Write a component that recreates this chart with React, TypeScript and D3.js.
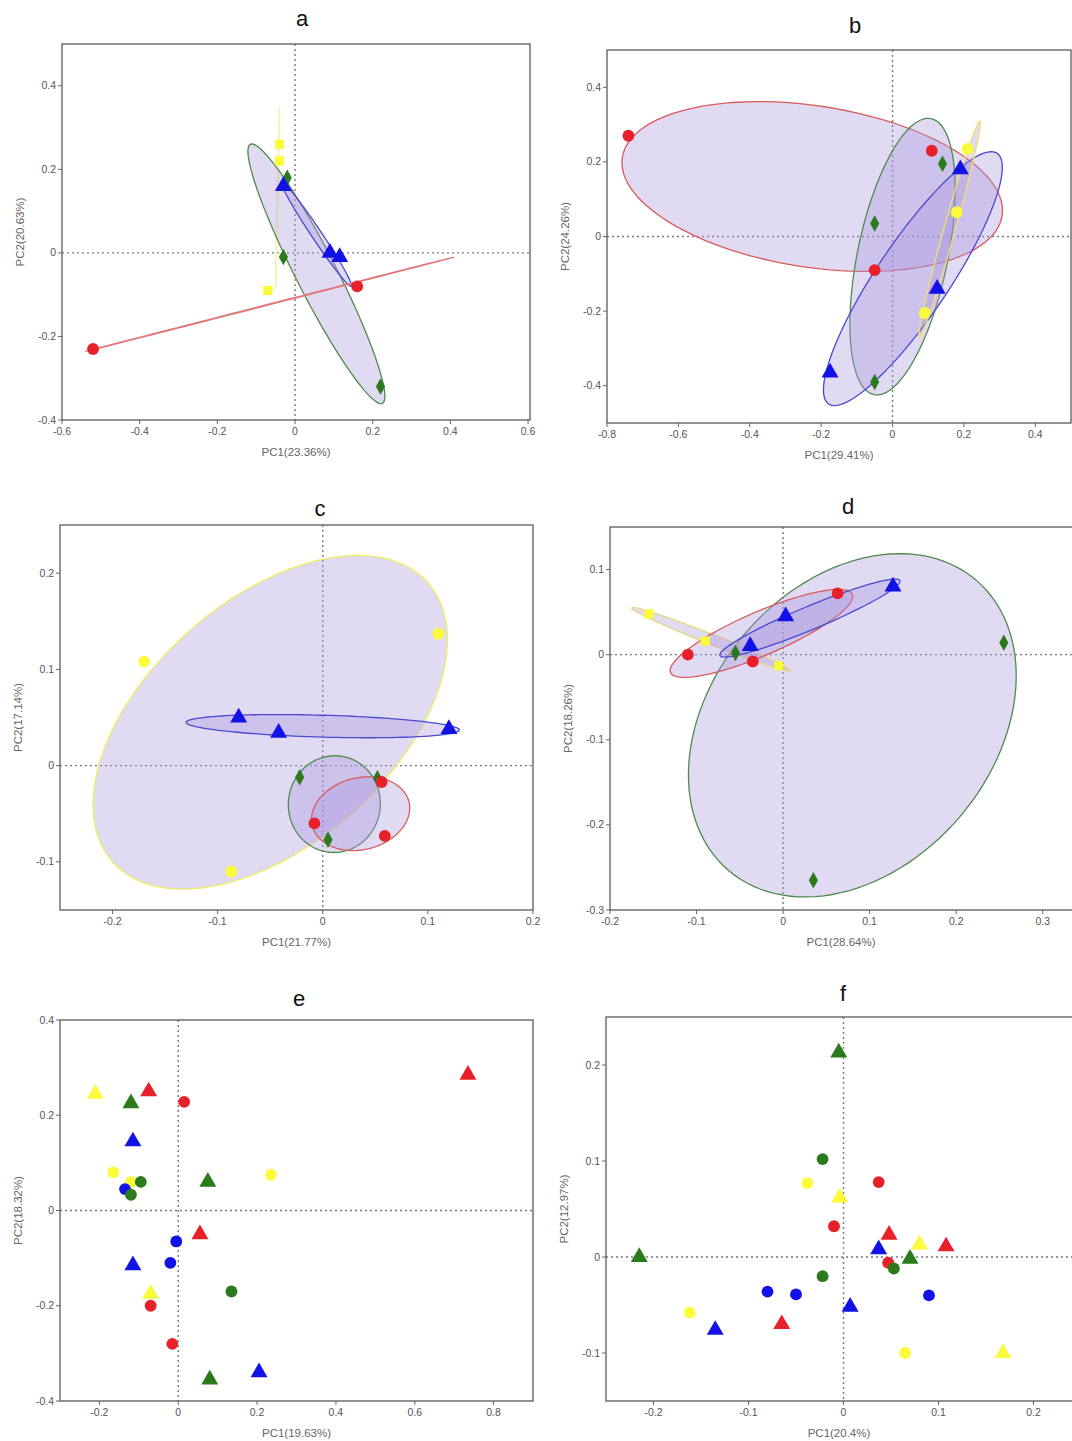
import React from 'react';
import * as d3 from 'd3';

type Shape = 'circle' | 'triangle' | 'diamond' | 'square';
type Pt = [number, number];
interface Group { color: string; shape: Shape; points: Pt[] }
// ellipse: center, end of major axis (data units), minor/major ratio (pixel space)
interface Ell { stroke: string; center: Pt; end: Pt; ratio: number; faint?: boolean }
interface PanelDef {
  title: string;
  titlePos: [number, number];
  box: [number, number, number, number]; // left, top, right, bottom in px
  xDomain: [number, number];
  yDomain: [number, number];
  xTicks: number[];
  yTicks: number[];
  xLabel: string;
  yLabel: string;
  groups: Group[];
  ellipses: Ell[];
}

const RED = '#e8202a';
const BLUE = '#1212e6';
const GREEN = '#2b7a1c';
const YELLOW = '#fbfb3c';

// ---- panel a
const aRed: Pt[] = [[-0.52, -0.23], [0.16, -0.08]];
const aBlue: Pt[] = [[-0.03, 0.16], [0.09, 0.0], [0.115, -0.01]];
const aGreen: Pt[] = [[-0.02, 0.18], [-0.03, -0.01], [0.22, -0.32]];
const aYellow: Pt[] = [[-0.04, 0.26], [-0.04, 0.22], [-0.07, -0.09]];

// ---- panel b
const bRed: Pt[] = [[-0.74, 0.27], [0.11, 0.23], [-0.05, -0.09]];
const bGreen: Pt[] = [[0.14, 0.195], [-0.05, 0.035], [-0.05, -0.39]];
const bBlue: Pt[] = [[0.19, 0.18], [0.125, -0.14], [-0.175, -0.365]];
const bYellow: Pt[] = [[0.21, 0.235], [0.18, 0.065], [0.09, -0.205]];

// ---- panel c
const cYellow: Pt[] = [[-0.17, 0.108], [0.11, 0.137], [-0.087, -0.11]];
const cBlue: Pt[] = [[-0.08, 0.05], [-0.042, 0.034], [0.12, 0.038]];
const cGreen: Pt[] = [[-0.022, -0.012], [0.052, -0.013], [0.005, -0.077]];
const cRed: Pt[] = [[0.056, -0.017], [-0.008, -0.06], [0.059, -0.073]];

// ---- panel d
const dRed: Pt[] = [[-0.11, 0.0], [0.063, 0.072], [-0.035, -0.008]];
const dBlue: Pt[] = [[-0.038, 0.01], [0.003, 0.045], [0.127, 0.08]];
const dGreen: Pt[] = [[-0.055, 0.002], [0.255, 0.014], [0.035, -0.265]];
const dYellow: Pt[] = [[-0.155, 0.048], [-0.09, 0.016], [-0.005, -0.013]];

// ---- panel e
const eYellowTri: Pt[] = [[-0.21, 0.245], [-0.07, -0.175]];
const eYellowCir: Pt[] = [[-0.165, 0.08], [-0.12, 0.06], [0.235, 0.075]];
const eGreenTri: Pt[] = [[-0.12, 0.225], [0.075, 0.06], [0.08, -0.355]];
const eGreenCir: Pt[] = [[-0.095, 0.06], [-0.12, 0.033], [0.135, -0.17]];
const eRedTri: Pt[] = [[-0.075, 0.25], [0.055, -0.05], [0.735, 0.285]];
const eRedCir: Pt[] = [[0.015, 0.228], [-0.07, -0.2], [-0.015, -0.28]];
const eBlueTri: Pt[] = [[-0.115, 0.145], [-0.115, -0.115], [0.205, -0.34]];
const eBlueCir: Pt[] = [[-0.135, 0.045], [-0.005, -0.065], [-0.02, -0.11]];

// ---- panel f
const fGreenTri: Pt[] = [[-0.005, 0.213], [-0.215, 0.0], [0.07, -0.002]];
const fGreenCir: Pt[] = [[-0.022, 0.102], [-0.022, -0.02], [0.053, -0.012]];
const fYellowCir: Pt[] = [[-0.038, 0.077], [-0.162, -0.058], [0.065, -0.1]];
const fYellowTri: Pt[] = [[-0.004, 0.062], [0.08, 0.013], [0.168, -0.1]];
const fRedCir: Pt[] = [[0.037, 0.078], [-0.01, 0.032], [0.047, -0.006]];
const fRedTri: Pt[] = [[0.048, 0.023], [0.108, 0.011], [-0.065, -0.07]];
const fBlueCir: Pt[] = [[-0.08, -0.036], [-0.05, -0.039], [0.09, -0.04]];
const fBlueTri: Pt[] = [[0.037, 0.008], [0.007, -0.052], [-0.135, -0.076]];

const panels: PanelDef[] = [
  {
    title: 'a', titlePos: [302, 26], box: [62, 44, 530, 420], xDomain: [-0.6, 0.605], yDomain: [-0.4, 0.5],
    xTicks: [-0.6, -0.4, -0.2, 0, 0.2, 0.4, 0.6], yTicks: [-0.4, -0.2, 0, 0.2, 0.4],
    xLabel: 'PC1(23.36%)', yLabel: 'PC2(20.63%)',
    groups: [
      { color: YELLOW, shape: 'square', points: aYellow },
      { color: GREEN, shape: 'diamond', points: aGreen },
      { color: BLUE, shape: 'triangle', points: aBlue },
      { color: RED, shape: 'circle', points: aRed },
    ],
    ellipses: [
      { stroke: '#f6f4b0', center: [-0.045, 0.13], end: [-0.04, 0.35], ratio: 0.01, faint: true },
      { stroke: '#4f8a4f', center: [0.055, -0.05], end: [-0.115, 0.26], ratio: 0.14 },
      { stroke: '#4a4ad0', center: [0.055, 0.045], end: [-0.035, 0.17], ratio: 0.08 },
      { stroke: '#e07878', center: [-0.065, -0.123], end: [0.41, -0.01], ratio: 0.002 },
    ],
  },
  {
    title: 'b', titlePos: [855, 33], box: [607, 50, 1071, 423], xDomain: [-0.8, 0.5], yDomain: [-0.5, 0.5],
    xTicks: [-0.8, -0.6, -0.4, -0.2, 0, 0.2, 0.4], yTicks: [-0.4, -0.2, 0, 0.2, 0.4],
    xLabel: 'PC1(29.41%)', yLabel: 'PC2(24.26%)',
    groups: [
      { color: RED, shape: 'circle', points: bRed },
      { color: GREEN, shape: 'diamond', points: bGreen },
      { color: BLUE, shape: 'triangle', points: bBlue },
      { color: YELLOW, shape: 'circle', points: bYellow },
    ],
    ellipses: [
      { stroke: '#d85a5a', center: [-0.225, 0.134], end: [0.307, 0.056], ratio: 0.42 },
      { stroke: '#4f8a4f', center: [0.028, -0.054], end: [0.108, 0.316], ratio: 0.32 },
      { stroke: '#4a4ad0', center: [0.057, -0.113], end: [0.293, 0.223], ratio: 0.24 },
      { stroke: '#f0e070', center: [0.16, 0.02], end: [0.245, 0.31], ratio: 0.05 },
    ],
  },
  {
    title: 'c', titlePos: [320, 516], box: [60, 525, 533, 910], xDomain: [-0.25, 0.2], yDomain: [-0.15, 0.25],
    xTicks: [-0.2, -0.1, 0, 0.1, 0.2], yTicks: [-0.1, 0, 0.1, 0.2],
    xLabel: 'PC1(21.77%)', yLabel: 'PC2(17.14%)',
    groups: [
      { color: YELLOW, shape: 'circle', points: cYellow },
      { color: BLUE, shape: 'triangle', points: cBlue },
      { color: GREEN, shape: 'diamond', points: cGreen },
      { color: RED, shape: 'circle', points: cRed },
    ],
    ellipses: [
      { stroke: '#eeee60', center: [-0.05, 0.045], end: [0.1, 0.19], ratio: 0.58 },
      { stroke: '#4a4ad0', center: [0.0, 0.041], end: [0.13, 0.037], ratio: 0.08 },
      { stroke: '#4f8a4f', center: [0.011, -0.04], end: [0.016, 0.01], ratio: 0.95 },
      { stroke: '#d85a5a', center: [0.036, -0.05], end: [0.082, -0.0375], ratio: 0.72 },
    ],
  },
  {
    title: 'd', titlePos: [848, 514], box: [610, 527, 1086, 910], xDomain: [-0.2, 0.35], yDomain: [-0.3, 0.15],
    xTicks: [-0.2, -0.1, 0, 0.1, 0.2, 0.3], yTicks: [-0.3, -0.2, -0.1, 0, 0.1],
    xLabel: 'PC1(28.64%)', yLabel: 'PC2(18.26%)',
    groups: [
      { color: GREEN, shape: 'diamond', points: dGreen },
      { color: YELLOW, shape: 'square', points: dYellow },
      { color: RED, shape: 'circle', points: dRed },
      { color: BLUE, shape: 'triangle', points: dBlue },
    ],
    ellipses: [
      { stroke: '#4f8a4f', center: [0.08, -0.083], end: [0.223, 0.0876], ratio: 0.74 },
      { stroke: '#e8d880', center: [-0.083, 0.018], end: [-0.175, 0.055], ratio: 0.06 },
      { stroke: '#d85a5a', center: [-0.025, 0.025], end: [0.08, 0.071], ratio: 0.22 },
      { stroke: '#4a4ad0', center: [0.031, 0.043], end: [0.135, 0.087], ratio: 0.12 },
    ],
  },
  {
    title: 'e', titlePos: [299, 1006], box: [60, 1020, 533, 1401], xDomain: [-0.3, 0.9], yDomain: [-0.4, 0.4],
    xTicks: [-0.2, 0, 0.2, 0.4, 0.6, 0.8], yTicks: [-0.4, -0.2, 0, 0.2, 0.4],
    xLabel: 'PC1(19.63%)', yLabel: 'PC2(18.32%)',
    groups: [
      { color: YELLOW, shape: 'triangle', points: eYellowTri },
      { color: YELLOW, shape: 'circle', points: eYellowCir },
      { color: GREEN, shape: 'triangle', points: eGreenTri },
      { color: RED, shape: 'triangle', points: eRedTri },
      { color: RED, shape: 'circle', points: eRedCir },
      { color: BLUE, shape: 'triangle', points: eBlueTri },
      { color: BLUE, shape: 'circle', points: eBlueCir },
      { color: GREEN, shape: 'circle', points: eGreenCir },
    ],
    ellipses: [],
  },
  {
    title: 'f', titlePos: [843, 1001], box: [606, 1017, 1081, 1401], xDomain: [-0.25, 0.25], yDomain: [-0.15, 0.25],
    xTicks: [-0.2, -0.1, 0, 0.1, 0.2], yTicks: [-0.1, 0, 0.1, 0.2],
    xLabel: 'PC1(20.4%)', yLabel: 'PC2(12.97%)',
    groups: [
      { color: GREEN, shape: 'triangle', points: fGreenTri },
      { color: YELLOW, shape: 'circle', points: fYellowCir },
      { color: YELLOW, shape: 'triangle', points: fYellowTri },
      { color: RED, shape: 'circle', points: fRedCir },
      { color: RED, shape: 'triangle', points: fRedTri },
      { color: BLUE, shape: 'circle', points: fBlueCir },
      { color: BLUE, shape: 'triangle', points: fBlueTri },
      { color: GREEN, shape: 'circle', points: fGreenCir },
    ],
    ellipses: [],
  },
];

const symbolPath = (shape: Shape) => {
  const type = shape === 'circle' ? d3.symbolCircle
    : shape === 'triangle' ? d3.symbolTriangle : d3.symbolSquare;
  const size = shape === 'circle' ? 110 : shape === 'triangle' ? 125 : shape === 'square' ? 85 : 80;
  return d3.symbol().type(type).size(size)() as string;
};

const fmt = (v: number) => (Math.abs(v) < 1e-9 ? '0' : String(+v.toFixed(2)));

const Panel: React.FC<{ p: PanelDef }> = ({ p }) => {
  const [l, t, r, b] = p.box;
  const x = d3.scaleLinear().domain(p.xDomain).range([l, r]);
  const y = d3.scaleLinear().domain(p.yDomain).range([b, t]);
  const font = 'Liberation Sans, Arial, sans-serif';
  const vr = Math.min(r, 1072);

  const ellipsePath = (e: Ell) => {
    const cx = x(e.center[0]), cy = y(e.center[1]);
    const ux = x(e.end[0]) - cx, uy = y(e.end[1]) - cy;
    const vx = -uy * e.ratio, vy = ux * e.ratio;
    const pts: [number, number][] = d3.range(0, 361, 3).map(deg => {
      const a = (deg * Math.PI) / 180;
      return [cx + Math.cos(a) * ux + Math.sin(a) * vx, cy + Math.cos(a) * uy + Math.sin(a) * vy];
    });
    return d3.line()(pts) as string;
  };

  const clipId = `clip-${p.title}`;
  return (
    <g>
      <defs>
        <clipPath id={clipId}><rect x={l} y={t} width={r - l} height={b - t} /></clipPath>
      </defs>
      <rect x={l} y={t} width={r - l} height={b - t} fill="#fff" />
      <text x={p.titlePos[0]} y={p.titlePos[1]} textAnchor="middle" fontSize={22} fontFamily={font} fill="#111">{p.title}</text>
      <g clipPath={`url(#${clipId})`}>
        <line x1={l} x2={r} y1={y(0)} y2={y(0)} stroke="#777" strokeWidth={1.4} strokeDasharray="2,3" />
        <line x1={x(0)} x2={x(0)} y1={t} y2={b} stroke="#777" strokeWidth={1.4} strokeDasharray="2,3" />
        {p.ellipses.map((e, i) => (
          <path key={i} d={ellipsePath(e)} fill="rgb(170,150,220)" fillOpacity={e.faint ? 0.1 : 0.35}
            stroke={e.stroke} strokeWidth={e.faint ? 1 : 1.3} />
        ))}
        {p.groups.map((g, gi) => g.points.map((pt, i) => (
          <path key={`${gi}-${i}`} d={symbolPath(g.shape)} fill={g.color}
            transform={g.shape === 'diamond'
              ? `translate(${x(pt[0])},${y(pt[1])}) scale(0.72,1.3) rotate(45)`
              : `translate(${x(pt[0])},${y(pt[1])})`} />
        )))}
      </g>
      <rect x={l} y={t} width={r - l} height={b - t} fill="none" stroke="#666" strokeWidth={1.4} />
      {p.xTicks.map(v => (
        <g key={`x${v}`}>
          <line x1={x(v)} x2={x(v)} y1={b} y2={b + 4} stroke="#666" />
          <text x={x(v)} y={b + 15} textAnchor="middle" fontSize={10.5} fontFamily={font} fill="#555">{fmt(v)}</text>
        </g>
      ))}
      {p.yTicks.map(v => (
        <g key={`y${v}`}>
          <line x1={l - 4} x2={l} y1={y(v)} y2={y(v)} stroke="#666" />
          <text x={l - 6} y={y(v) + 3.5} textAnchor="end" fontSize={10.5} fontFamily={font} fill="#555">{fmt(v)}</text>
        </g>
      ))}
      <text x={(l + vr) / 2} y={b + 36} textAnchor="middle" fontSize={11.5} fontFamily={font} fill="#666">{p.xLabel}</text>
      <text transform={`translate(${l - 38},${(t + b) / 2}) rotate(-90)`} textAnchor="middle" fontSize={11.5} fontFamily={font} fill="#666">{p.yLabel}</text>
    </g>
  );
};

export default function App() {
  return (
    <svg width={1072} height={1441} viewBox="0 0 1072 1441"
      style={{ position: 'absolute', left: 0, top: 0, background: '#fff' }}>
      {panels.map(p => <Panel key={p.title} p={p} />)}
    </svg>
  );
}
